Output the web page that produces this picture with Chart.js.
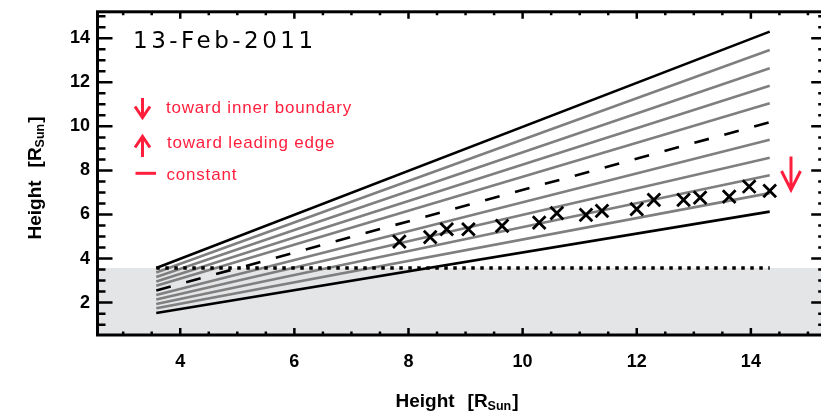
<!DOCTYPE html>
<html>
<head>
<meta charset="utf-8">
<script src="https://cdn.jsdelivr.net/npm/chart.js@4.4.0/dist/chart.umd.min.js"></script>
<style>
    html, body { margin: 0; padding: 0; background: #fff; overflow: hidden; }
    #wrap { width: 838px; height: 414px; }
</style>
</head>
<body>
<div id="wrap"><canvas id="heightChart" width="838" height="414"></canvas></div>
<script>
// model lines: height at the start / end of the leading edge range
const lineX = [3.58, 14.33];
const lineStart = [3.57, 3.37, 3.16, 2.96, 2.76, 2.55, 2.35, 2.14, 1.94, 1.74, 1.53];
const lineEnd = [14.30, 13.47, 12.64, 11.84, 11.05, 10.19, 9.39, 8.58, 7.78, 6.97, 6.13];

// measured points (crosses)
const obsX = [7.84, 8.38, 8.67, 9.05, 9.64, 10.29, 10.60, 11.11, 11.39, 12.00, 12.30, 12.82, 13.11, 13.62, 13.97, 14.33];
const obsY = [4.77, 4.97, 5.33, 5.33, 5.48, 5.63, 6.06, 5.98, 6.16, 6.24, 6.66, 6.66, 6.77, 6.81, 7.27, 7.07];

// inner boundary (dotted line and grey band below it)
const boundaryY = 3.57;

const xTicks = [4, 6, 8, 10, 12, 14];
const yTicks = [2, 4, 6, 8, 10, 12, 14];
const xRange = [2.55, 15.32];
const yRange = [0.53, 15.2];

const RED = '#ff1f3d';

document.addEventListener('DOMContentLoaded', function() {
    if (typeof Chart === 'undefined') {
        console.error('Chart.js is not loaded.');
        return;
    }
    const ctxEl = document.getElementById('heightChart');

    function drawArrow(ctx, x, yFrom, yTo, headLen, headHalf) {
        const dir = yTo > yFrom ? 1 : -1;
        ctx.beginPath();
        ctx.moveTo(x, yFrom);
        ctx.lineTo(x, yTo);
        ctx.moveTo(x - headHalf, yTo - dir * headLen);
        ctx.lineTo(x, yTo);
        ctx.lineTo(x + headHalf, yTo - dir * headLen);
        ctx.stroke();
    }

    // "Height [R_Sun]" centred on (0,0), baseline at 0
    function drawAxisTitle(ctx) {
        const big = 'bold 19px "Liberation Sans", Arial, sans-serif';
        const small = 'bold 12.5px "Liberation Sans", Arial, sans-serif';
        ctx.font = big;
        const wH = ctx.measureText('Height').width;
        const wOpen = ctx.measureText('[R').width;
        const wClose = ctx.measureText(']').width;
        ctx.font = small;
        const wSub = ctx.measureText('Sun').width;
        const gap = 13;
        const total = wH + gap + wOpen + wSub + 1 + wClose;
        let cx = -total / 2;
        ctx.textAlign = 'left';
        ctx.textBaseline = 'alphabetic';
        ctx.font = big;
        ctx.fillText('Height', cx, 0); cx += wH + gap;
        ctx.fillText('[R', cx, 0); cx += wOpen;
        ctx.font = small;
        ctx.fillText('Sun', cx, 3); cx += wSub + 1;
        ctx.font = big;
        ctx.fillText(']', cx, 0);
    }

    const decorPlugin = {
        id: 'decor',
        afterDraw(chart) {
            const { ctx, chartArea: a, scales: { x, y } } = chart;
            ctx.save();

            // inward ticks on all four sides
            ctx.strokeStyle = '#000';
            ctx.lineWidth = 2.5;
            ctx.beginPath();
            for (let v = Math.ceil(x.min * 2) / 2; v <= x.max; v += 0.5) {
                const px = x.getPixelForValue(v);
                const len = (v % 2 === 0) ? 7 : 3.5;
                ctx.moveTo(px, a.bottom); ctx.lineTo(px, a.bottom - len);
                ctx.moveTo(px, a.top); ctx.lineTo(px, a.top + len);
            }
            for (let v = Math.ceil(y.min * 2) / 2; v <= y.max; v += 0.5) {
                const py = y.getPixelForValue(v);
                const len = (v % 2 === 0) ? 15 : 8;
                ctx.moveTo(a.left, py); ctx.lineTo(a.left + len, py);
                ctx.moveTo(a.right, py); ctx.lineTo(a.right - len, py);
            }
            ctx.stroke();

            // frame
            ctx.lineWidth = 3;
            ctx.strokeRect(a.left, a.top, a.right - a.left, a.bottom - a.top);

            // date
            ctx.fillStyle = '#000';
            ctx.font = '23px "DejaVu Sans", sans-serif';
            ctx.letterSpacing = '3.5px';
            ctx.textBaseline = 'alphabetic';
            ctx.textAlign = 'left';
            ctx.fillText('13-Feb-2011', 133, 48.3);

            // legend
            ctx.letterSpacing = '0.8px';
            ctx.fillStyle = RED;
            ctx.strokeStyle = RED;
            ctx.lineWidth = 3;
            ctx.font = '17px "Liberation Sans", Arial, sans-serif';
            drawArrow(ctx, 142.5, 98, 117.5, 11, 7.5);
            ctx.fillText('toward inner boundary', 166, 113.3);
            drawArrow(ctx, 142.5, 157, 136.5, 11, 7.5);
            ctx.fillText('toward leading edge', 167, 148.3);
            ctx.beginPath();
            ctx.moveTo(135.5, 173.3); ctx.lineTo(156, 173.3);
            ctx.stroke();
            ctx.fillText('constant', 166.5, 180);
            drawArrow(ctx, 791, 156.5, 190, 19, 9.5);

            // axis titles
            ctx.letterSpacing = '0px';
            ctx.fillStyle = '#000';
            ctx.save();
            ctx.translate(457, 406.7);
            drawAxisTitle(ctx);
            ctx.restore();
            ctx.save();
            ctx.translate(40.7, 178);
            ctx.rotate(-Math.PI / 2);
            drawAxisTitle(ctx);
            ctx.restore();

            ctx.restore();
        }
    };

    const datasets = [];
    datasets.push({
        data: obsX.map((v, i) => ({ x: v, y: obsY[i] })),
        showLine: false,
        pointStyle: 'crossRot',
        pointRadius: 9,
        pointBorderWidth: 2.8,
        borderColor: '#000',
        order: 0
    });
    const last = lineStart.length - 1;
    const mid = Math.floor(last / 2);
    lineStart.forEach(function(s, i) {
        const black = (i === 0 || i === last || i === mid);
        datasets.push({
            data: [{ x: lineX[0], y: s }, { x: lineX[1], y: lineEnd[i] }],
            showLine: true,
            borderColor: black ? '#000' : '#7f7f7f',
            borderWidth: 2.6,
            borderDash: i === mid ? [15, 16] : [],
            borderCapStyle: 'butt',
            pointRadius: 0,
            order: black ? 2 : 3
        });
    });
    datasets.push({
        data: [{ x: lineX[0], y: boundaryY }, { x: lineX[1], y: boundaryY }],
        showLine: true,
        borderColor: '#000',
        borderWidth: 3.5,
        borderDash: [3.5, 5.5],
        borderCapStyle: 'butt',
        pointRadius: 0,
        order: 1
    });
    datasets.push({
        data: [{ x: xRange[0], y: boundaryY }, { x: xRange[1], y: boundaryY }],
        showLine: true,
        fill: 'start',
        backgroundColor: '#e4e5e7',
        borderColor: 'rgba(0,0,0,0)',
        borderWidth: 0,
        pointRadius: 0,
        order: 10
    });

    const tickFont = { family: '"Liberation Sans", Arial, sans-serif', size: 18, weight: 'bold' };

    try {
        new Chart(ctxEl.getContext('2d'), {
            type: 'scatter',
            data: { datasets: datasets },
            options: {
                responsive: false,
                devicePixelRatio: 1,
                animation: false,
                layout: { padding: { left: 0, right: 4, top: 10.5, bottom: 0 } },
                plugins: {
                    legend: { display: false },
                    tooltip: { enabled: false },
                    title: { display: false }
                },
                scales: {
                    x: {
                        type: 'linear',
                        min: xRange[0],
                        max: xRange[1],
                        grid: { display: false, drawTicks: false },
                        border: { display: false },
                        afterBuildTicks: function(s) { s.ticks = xTicks.map(v => ({ value: v })); },
                        afterFit: function(s) {
                            s.height = 79;
                            s.paddingLeft = 0;
                            s.paddingRight = 0;
                        },
                        ticks: { color: '#000', font: tickFont, padding: 16, maxRotation: 0, autoSkip: false }
                    },
                    y: {
                        type: 'linear',
                        min: yRange[0],
                        max: yRange[1],
                        grid: { display: false, drawTicks: false },
                        border: { display: false },
                        afterBuildTicks: function(s) { s.ticks = yTicks.map(v => ({ value: v })); },
                        afterFit: function(s) {
                            s.width = 97.5;
                            s.paddingTop = 0;
                            s.paddingBottom = 0;
                        },
                        ticks: { color: '#000', font: tickFont, padding: 7.5, autoSkip: false }
                    }
                }
            },
            plugins: [decorPlugin]
        });
    } catch (error) {
        console.error('Error initializing chart:', error);
    }
});
</script>
</body>
</html>
